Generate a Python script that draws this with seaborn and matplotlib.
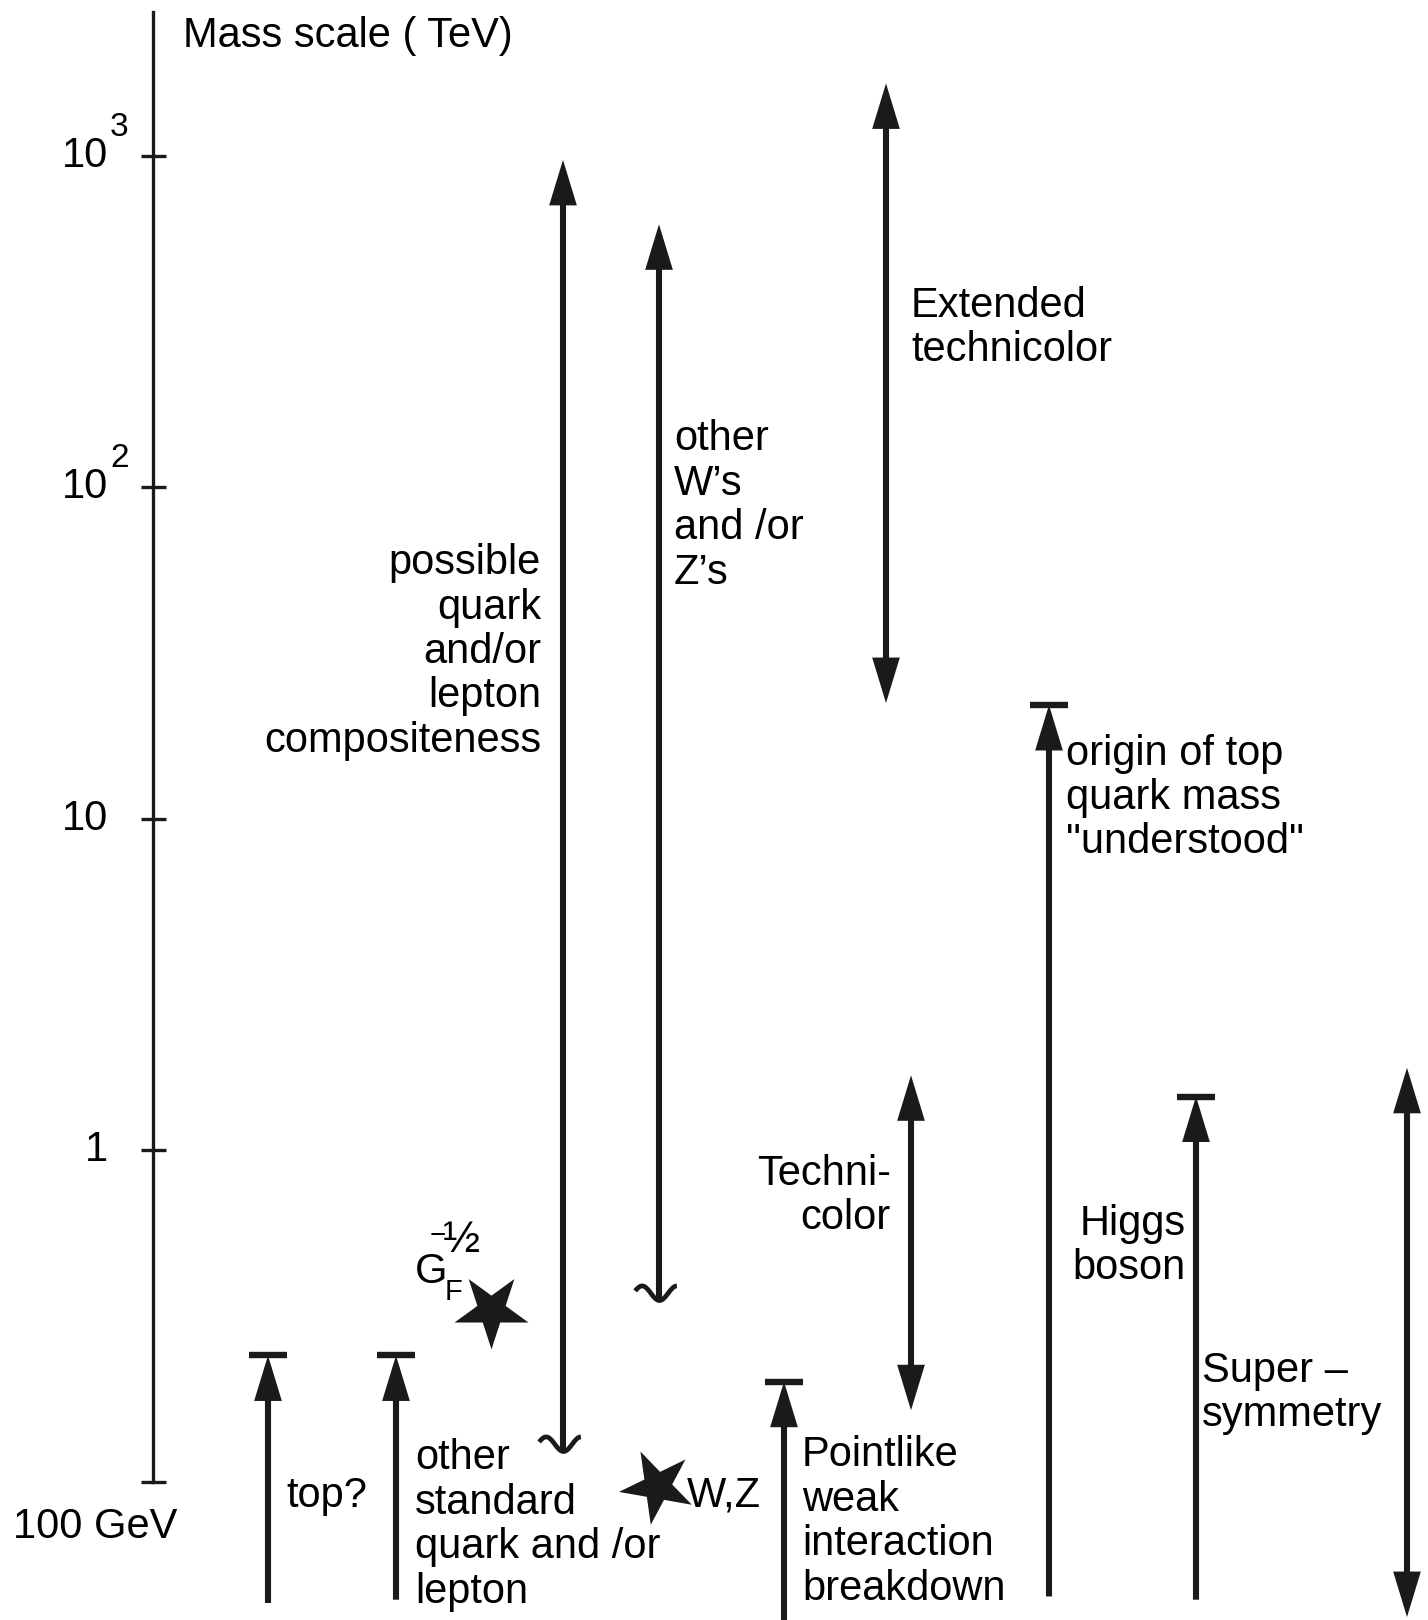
import numpy as np
import matplotlib
matplotlib.use('Agg')
import matplotlib.pyplot as plt
import seaborn as sns
from matplotlib.path import Path
from matplotlib.markers import MarkerStyle
from matplotlib.transforms import Affine2D
from matplotlib.patches import FancyArrowPatch
from matplotlib.ticker import NullLocator

sns.set_theme(style='white')
plt.rcParams['font.family'] = ['Liberation Sans', 'DejaVu Sans']
plt.rcParams['text.color'] = 'black'

# ---- data (mass scale in TeV) ----
# arrows ending on a bar
cap_names = ['top?', 'other standard quark/lepton', 'pointlike weak breakdown',
             'origin of top mass', 'Higgs boson']
cap_low = [0.043, 0.044, 0.038, 0.045, 0.044]
cap_high = [0.24, 0.24, 0.20, 22.0, 1.45]

# double headed ranges
range_names = ['Extended technicolor', 'Technicolor', 'Supersymmetry']
range_low = [22.3, 0.164, 0.039]
range_high = [1650, 1.68, 1.77]

# open ended arrows starting at a tilde
open_names = ['compositeness', "other W's and/or Z's"]
open_low = [0.124, 0.353]
open_high = [970, 620]

# stars
star_names = ['G_F^-1/2', 'W,Z']
star_mass = [0.33, 0.097]

tick_vals = [1, 10, 100, 1000]
tick_base = ['1', '10', '10', '10']
tick_exp = ['', '', '2', '3']

# ---- layout (pixels) ----
W, H = 1428, 1620
Y1 = 1150      # pixel row of 1 TeV
PX = 331.5     # pixels per decade
cap_x = [268, 396, 784, 1049, 1196]
range_x = [886, 911, 1407]
open_x = [563, 659]
star_x = [491, 657]
star_rot = [180, 170]
FS = 30

fig = plt.figure(figsize=(W / 100, H / 100), dpi=100, facecolor='white')
ax = fig.add_axes([0, 0, 1, 1])
ax.set_facecolor('white')
ax.set_xlim(0, W)
ax.set_yscale('log')
ax.set_ylim(10 ** ((Y1 - H) / PX), 10 ** (Y1 / PX))

# vertical mass axis
for s in ['top', 'right', 'bottom']:
    ax.spines[s].set_visible(False)
ax.spines['left'].set_position(('data', 153))
ax.spines['left'].set_bounds(0.1, 10 ** ((Y1 - 12) / PX))
ax.spines['left'].set_color('k')
ax.spines['left'].set_linewidth(2.4)
ax.set_xticks([])
ax.set_yticks([0.1] + tick_vals)
ax.set_yticklabels([])
ax.yaxis.set_minor_locator(NullLocator())
ax.tick_params(axis='y', which='major', left=True, direction='inout',
               length=18, width=2.4, color='k')

for v, b, e in zip(tick_vals, tick_base, tick_exp):
    ax.text(108, v, b, ha='right', va='center', fontsize=FS)
    if e:
        ax.annotate(e, xy=(110, v), xytext=(0, 13), textcoords='offset pixels',
                    ha='left', va='bottom', fontsize=24)
ax.annotate('100 GeV', xy=(13, 0.1), xytext=(0, -46), textcoords='offset pixels',
            ha='left', va='center', fontsize=FS)


def arrow(x, lo, hi, style):
    ax.add_patch(FancyArrowPatch((x, lo), (x, hi), arrowstyle=style,
                                 mutation_scale=1, lw=4.4, color='k',
                                 joinstyle='miter', capstyle='butt',
                                 shrinkA=0, shrinkB=0))


head = 'head_length=23,head_width=7'
for x, lo, hi in zip(cap_x, cap_low, cap_high):
    arrow(x, lo, hi, '-|>,' + head)
ax.plot(cap_x, cap_high, ls='none', marker='_', ms=28, mew=4.6, color='k')

for x, lo, hi in zip(range_x, range_low, range_high):
    arrow(x, lo, hi, '<|-|>,' + head)

for x, lo, hi in zip(open_x, open_low, open_high):
    arrow(x, lo, hi, '-|>,' + head)
t = np.linspace(-1.4, 1, 60)
tilde = Path(np.column_stack([t, 0.42 * (1 - np.cos(np.pi * t))]))
ax.plot(open_x, open_low, ls='none', marker=tilde, ms=35, mfc='none',
        mec='k', mew=3.4)

for x, m, r in zip(star_x, star_mass, star_rot):
    sns.scatterplot(x=[x], y=[m], ax=ax, s=56 ** 2, color='k', edgecolor='k',
                    linewidth=0,
                    marker=MarkerStyle('*', transform=Affine2D().rotate_deg(r)))


def ftext(x, y, s, **kw):
    kw.setdefault('fontsize', FS)
    kw.setdefault('linespacing', 1.14)
    fig.text(x / W, 1 - y / H, s, **kw)


ftext(183, 36, 'Mass scale ( TeV)', ha='left', va='center')
ftext(541, 652, 'possible\nquark\nand/or\nlepton\ncompositeness', ha='right',
      va='center', multialignment='right')
ftext(674, 506, 'other\nW\u2019s\nand /or\nZ\u2019s', ha='left', va='center')
ftext(911, 328, 'Extended\ntechnicolor', ha='left', va='center')
ftext(891, 1196, 'Techni-\ncolor', ha='right', va='center', multialignment='right')
ftext(1066, 798, 'origin of top\nquark mass\n"understood"', ha='left', va='center')
ftext(1186, 1246, 'Higgs\nboson', ha='right', va='center', multialignment='right')
ftext(1202, 1393, 'Super \u2013\nsymmetry', ha='left', va='center')
ftext(802, 1522, 'Pointlike\nweak\ninteraction\nbreakdown', ha='left', va='center')
ftext(415, 1525, 'other\nstandard\nquark and /or\nlepton', ha='left', va='center')
ftext(286, 1496, 'top?', ha='left', va='center')
ftext(687, 1496, 'W,Z', ha='left', va='center')

# G_F^{-1/2} label
ftext(415, 1272, 'G', ha='left', va='center')
ftext(445, 1292, 'F', ha='left', va='center', fontsize=21)
ftext(430, 1236, '\u2212', ha='left', va='center', fontsize=20)
ftext(443, 1240, '\u00bd', ha='left', va='center', fontsize=32)

fig.savefig('out.png', dpi=100, facecolor='white')
